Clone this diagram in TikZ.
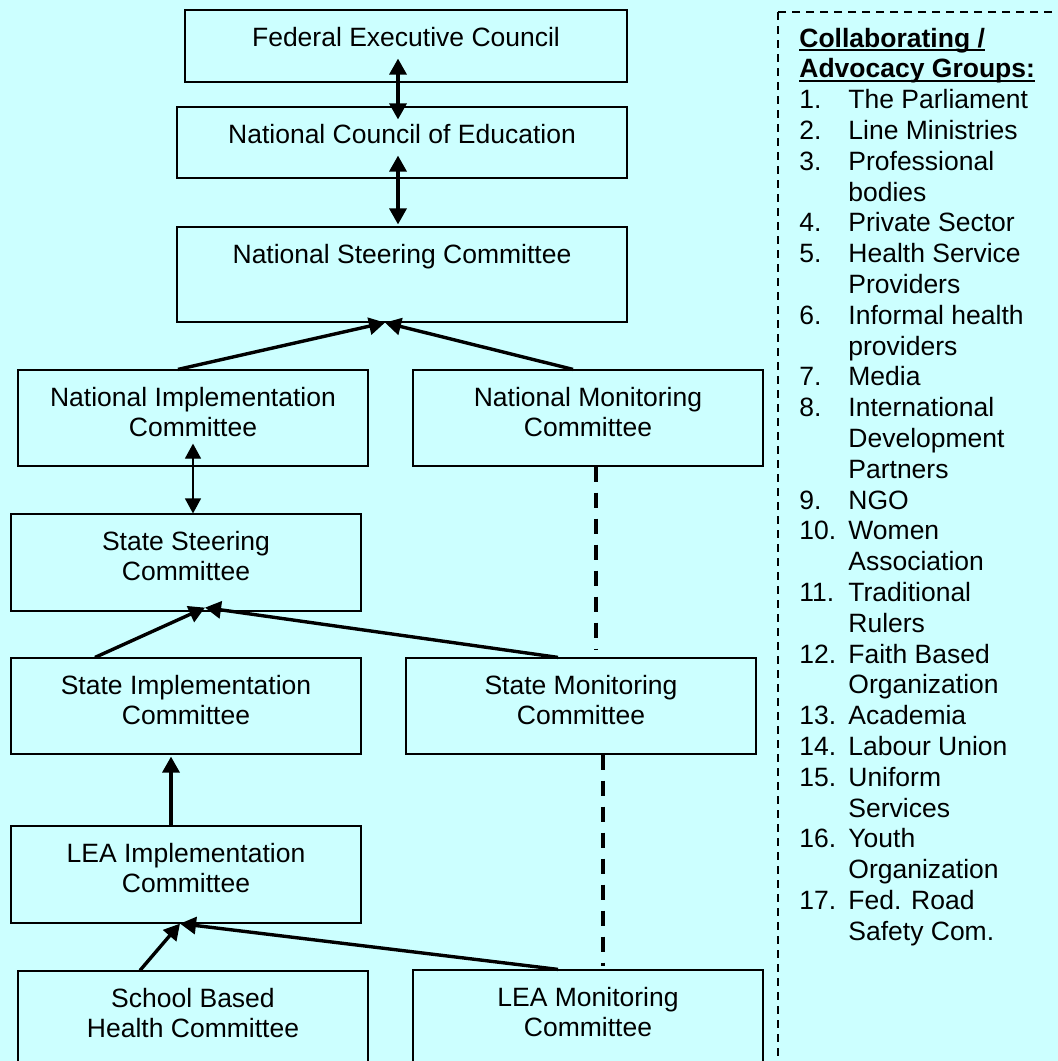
\documentclass[tikz,border=0pt]{standalone}
\usepackage{fontspec}
\setmainfont{Liberation Sans}
\usetikzlibrary{arrows.meta}
\definecolor{bgcyan}{HTML}{CCFFFF}
\newcommand*\headline[1]{\setbox0\hbox{#1}\rlap{\rule[-2pt]{\wd0}{1pt}}\box0}
\tikzset{
  box/.style={draw, line width=0.6pt, minimum width=175pt, minimum height=48pt, inner sep=0pt},
  boxtext/.style={anchor=base, yshift=-18.5pt, align=center, inner sep=0pt, font=\fontsize{13.25}{15.25}\selectfont},
  boxtwo/.style={boxtext, yshift=-15.25pt},
  link/.style={line width=1.7pt, -{Triangle[length=8pt,width=8.5pt]}},
  twoway/.style={line width=1.7pt, {Triangle[length=8pt,width=8.5pt]}-{Triangle[length=8pt,width=8.5pt]}},
  thinway/.style={line width=0.6pt, {Triangle[length=7.5pt,width=8pt]}-{Triangle[length=7.5pt,width=8pt]}},
  monitor/.style={line width=1.8pt, dash pattern=on 7.5pt off 5.5pt},
}
\begin{document}
\begin{tikzpicture}[x=0.5pt, y=-0.5pt]
\useasboundingbox (0,0) rectangle (1058,1061);
\fill[bgcyan] (0,0) rectangle (1058,1061);
\clip (0,0) rectangle (1058,1061);

\node[box, minimum width=221pt, minimum height=36pt, label={[boxtext]north:Federal Executive Council}] (fec) at (406,46) {};
\node[box, minimum width=225pt, minimum height=35.5pt, label={[boxtext]north:National Council of Education}] (nce) at (402,142.5) {};
\node[box, minimum width=225pt, minimum height=47.5pt, label={[boxtext]north:National Steering Committee}] (nsc) at (402,274.5) {};
\node[box, label={[boxtwo]north:{National Implementation\\Committee}}] (nic) at (193,418) {};
\node[box, label={[boxtwo]north:{National Monitoring\\Committee}}] (nmc) at (588,418) {};
\node[box, minimum height=48.5pt, label={[boxtwo]north:{State Steering\\Committee}}] (ssc) at (186,562.5) {};
\node[box, label={[boxtwo]north:{State Implementation\\Committee}}] (sic) at (186,706) {};
\node[box, label={[boxtwo]north:{State Monitoring\\Committee}}] (smc) at (581,706) {};
\node[box, minimum height=48.5pt, label={[boxtwo]north:{LEA Implementation\\Committee}}] (lic) at (186,874.5) {};
\node[box, minimum height=55pt, label={[boxtwo]north:{School Based\\Health Committee}}] (sbhc) at (193,1026) {};
\node[box, minimum height=55pt, label={[boxtwo]north:{LEA Monitoring\\Committee}}] (lmc) at (588,1025) {};

\draw[twoway] ([xshift=-4pt,yshift=12pt]fec.south) -- ([xshift=-2pt,yshift=-6.5pt]nce.north);
\draw[twoway] ([xshift=-2pt,yshift=11.5pt]nce.south) -- ([xshift=-2pt,yshift=1pt]nsc.north);
\draw[link] ([xshift=-7.5pt]nic.north) -- ([xshift=-8.5pt]nsc.south);
\draw[link] ([xshift=-7.5pt]nmc.north) -- ([xshift=-8.5pt]nsc.south);
\draw[thinway] ([yshift=11.5pt]nic.south) -- ([xshift=3.5pt]ssc.north);
\draw[link] ([xshift=-45.5pt]sic.north) -- ([xshift=9.5pt,yshift=2pt]ssc.south);
\draw[link] ([xshift=-11.5pt]smc.north) -- ([xshift=9.5pt,yshift=2pt]ssc.south);
\draw[link] ([xshift=-7.5pt]lic.north) -- ([xshift=-7.5pt,yshift=-1pt]sic.south);
\draw[link] ([xshift=-26.5pt]sbhc.north) -- ([xshift=-3pt]lic.south);
\draw[link] ([xshift=-15pt]lmc.north) -- ([xshift=-3pt]lic.south);
\draw[monitor] ([xshift=4pt]nmc.south) -- ([xshift=7.5pt,yshift=4pt]smc.north);
\draw[monitor] ([xshift=11pt]smc.south) -- ([xshift=7.5pt,yshift=1.5pt]lmc.north);

\draw[line width=1.1pt, dash pattern=on 4pt off 3pt] (778,12) rectangle (1090,1090);
\node[anchor=base west, inner sep=0pt, font=\fontsize{13.25}{15.4}\selectfont] (groups) at (799,47) {%
\begin{tabular}[t]{@{}p{24.5pt}@{}l@{}}
\multicolumn{2}{@{}l@{}}{\bfseries\headline{Collaborating /}}\\
\multicolumn{2}{@{}l@{}}{\bfseries\headline{Advocacy Groups:}}\\
1. & The Parliament\\
2. & Line Ministries\\
3. & Professional\\
   & bodies\\
4. & Private Sector\\
5. & Health Service\\
   & Providers\\
6. & Informal health\\
   & providers\\
7. & Media\\
8. & International\\
   & Development\\
   & Partners\\
9. & NGO\\
10. & Women\\
    & Association\\
11. & Traditional\\
    & Rulers\\
12. & Faith Based\\
    & Organization\\
13. & Academia\\
14. & Labour Union\\
15. & Uniform\\
    & Services\\
16. & Youth\\
    & Organization\\
17. & Fed. Road\\
    & Safety Com.
\end{tabular}};
\end{tikzpicture}
\end{document}
